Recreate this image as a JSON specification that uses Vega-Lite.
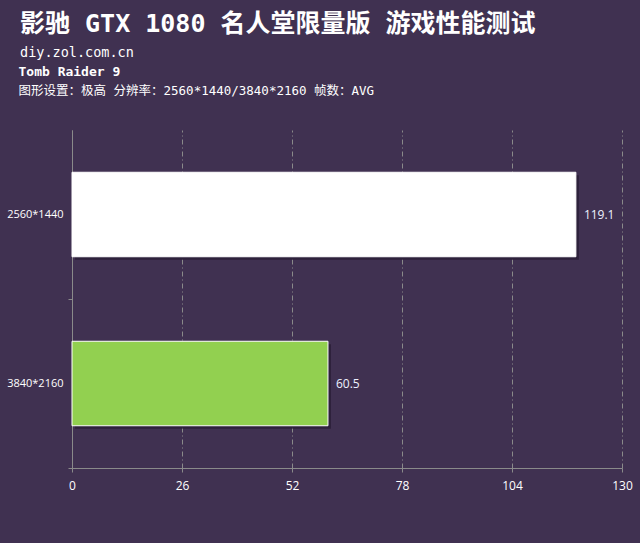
{
  "$schema": "https://vega.github.io/schema/vega-lite/v6.json",
  "width": 550,
  "height": 338,
  "autosize": "none",
  "padding": {"left": 72, "top": 130, "right": 18, "bottom": 75},
  "background": "#403151",
  "config": {"view": {"stroke": null}},
  "title": {
    "text": "影驰 GTX 1080 名人堂限量版 游戏性能测试",
    "subtitle": "diy.zol.com.cn",
    "anchor": "start",
    "frame": "group",
    "dx": -52,
    "dy": 54,
    "font": "DejaVu Sans Mono, Noto Sans CJK SC",
    "fontSize": 25,
    "fontWeight": "bold",
    "color": "#ffffff",
    "subtitleFont": "DejaVu Sans Mono",
    "subtitleFontSize": 13.5,
    "subtitleColor": "#ffffff",
    "subtitlePadding": 9,
    "offset": 60
  },
  "data": {
    "values": [
      {"res": "2560*1440", "fps": 119.1, "c": "w"},
      {"res": "3840*2160", "fps": 60.5, "c": "g"}
    ]
  },
  "encoding": {
    "y": {
      "field": "res",
      "type": "nominal",
      "sort": null,
      "scale": {"paddingInner": 0.5, "paddingOuter": 0.25},
      "axis": {
        "title": "Tomb Raider 9",
        "titleAngle": 0,
        "titleAlign": "left",
        "titleBaseline": "middle",
        "titleX": -54,
        "titleY": -59,
        "titleFont": "DejaVu Sans Mono",
        "titleFontSize": 13,
        "titleFontWeight": "bold",
        "titleColor": "#ffffff",
        "labelColor": "#ffffff",
        "labelFont": "Open Sans",
        "labelFontSize": 11,
        "labelPadding": 5,
        "domainColor": "#8a8a8a",
        "tickColor": "#8a8a8a",
        "tickSize": 4,
        "tickOffset": 84.25,
        "labelOffset": -84.25,
        "grid": false
      }
    },
    "x": {
      "field": "fps",
      "type": "quantitative",
      "scale": {"domain": [0, 130], "nice": false},
      "axis": {
        "values": [0, 26, 52, 78, 104, 130],
        "title": "图形设置：极高 分辨率：2560*1440/3840*2160 帧数：AVG",
        "titleX": -54,
        "titleY": -378,
        "titleAlign": "left",
        "titleBaseline": "middle",
        "titleFont": "DejaVu Sans Mono, Noto Sans CJK SC",
        "titleFontSize": 12.5,
        "titleFontWeight": "normal",
        "titleColor": "#ffffff",
        "labelColor": "#ffffff",
        "labelFont": "Open Sans",
        "labelFontSize": 12,
        "labelPadding": 8,
        "labelFlush": false,
        "domainColor": "#8a8a8a",
        "tickColor": "#8a8a8a",
        "tickSize": 4,
        "grid": true,
        "gridColor": "#8a8a8a",
        "gridDash": [5, 3, 1, 3]
      }
    }
  },
  "layer": [
    {
      "mark": {"type": "bar", "color": "#2a1f37", "opacity": 0.85, "xOffset": 3, "x2Offset": 3, "yOffset": 3, "y2Offset": 3}
    },
    {
      "mark": {"type": "bar", "stroke": "#ffffff", "strokeWidth": 1},
      "encoding": {
        "color": {"field": "c", "type": "nominal", "scale": {"domain": ["w", "g"], "range": ["#ffffff", "#92d050"]}, "legend": null}
      }
    },
    {
      "mark": {"type": "text", "align": "left", "dx": 8, "color": "#eef2ff", "fontSize": 12, "font": "Open Sans"},
      "encoding": {"text": {"field": "fps", "type": "quantitative", "format": ".1f"}}
    }
  ]
}
